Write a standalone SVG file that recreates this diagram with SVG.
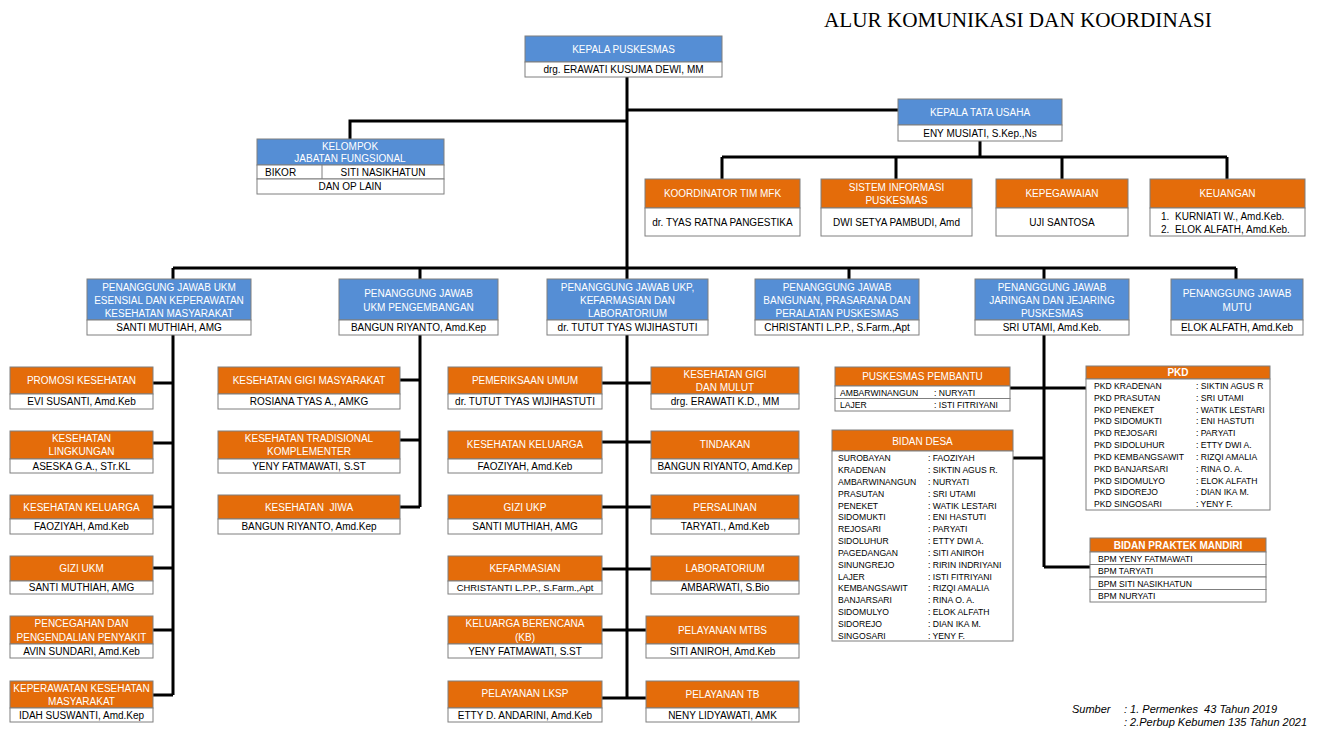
<svg xmlns="http://www.w3.org/2000/svg" width="1330" height="729" viewBox="0 0 1330 729">
<style>
.bl{fill:#558ED5;stroke:#7F7F7F;stroke-width:1}
.or{fill:#E46C0A;stroke:#7F7F7F;stroke-width:1}
.wh{fill:#FFFFFF;stroke:#7F7F7F;stroke-width:1}
.ht{fill:#FFFFFF;font-family:"Liberation Sans",Arial,sans-serif;font-size:10px;text-anchor:middle}
.nt{fill:#000000;font-family:"Liberation Sans",Arial,sans-serif;font-size:10px;text-anchor:middle}
.ns{fill:#000000;font-family:"Liberation Sans",Arial,sans-serif;font-size:10px;text-anchor:start}
.rt{fill:#000000;font-family:"Liberation Sans",Arial,sans-serif;font-size:8.6px}
.ln{stroke:#000000;stroke-width:3;fill:none}
</style>
<rect width="1330" height="729" fill="#FFFFFF"/>
<text x="824" y="27" font-family="Liberation Serif,Times New Roman,serif" font-size="21.2" fill="#000">ALUR KOMUNIKASI DAN KOORDINASI</text>

<g id="connectors">
<path class="ln" d="M627 77V698"/>
<path class="ln" d="M627 110H898"/>
<path class="ln" d="M627 121H350V139"/>
<path class="ln" d="M980 141V157M722 157H1227M722 157V179M896 157V179M1062 157V179M1227 157V179"/>
<path class="ln" d="M173 268H1236M173 268V279M420 268V279M849 268V279M1044 268V279M1236 268V279"/>
<path class="ln" d="M173 335V695M153 383H173M153 443H173M153 507H173M153 568H173M153 630H173M153 695H173"/>
<path class="ln" d="M420 335V507M400 380H420M400 440H420M400 507H420"/>
<path class="ln" d="M602 383H651M602 442H651M602 507H651M602 569H651M602 630H646M602 698H646"/>
<path class="ln" d="M1044 335V567M1010 388H1086M1013 458H1044M1044 567H1090"/>
</g>

<g id="kepala-puskesmas">
<rect class="bl" x="525" y="36" width="197" height="26"/>
<rect class="wh" x="525" y="62" width="197" height="15"/>
<text class="ht" x="623.5" y="53">KEPALA PUSKESMAS</text>
<text class="nt" x="623.5" y="73">drg. ERAWATI KUSUMA DEWI, MM</text>
</g>

<g id="kepala-tata-usaha">
<rect class="bl" x="898" y="99" width="164" height="26"/>
<rect class="wh" x="898" y="125" width="164" height="16"/>
<text class="ht" x="980" y="116">KEPALA TATA USAHA</text>
<text class="nt" x="980" y="137">ENY MUSIATI, S.Kep.,Ns</text>
</g>

<g id="kelompok-jf">
<rect class="bl" x="257" y="139" width="187" height="26"/>
<rect class="wh" x="257" y="165" width="187" height="14"/>
<rect class="wh" x="257" y="179" width="187" height="15"/>
<line x1="322" y1="165" x2="322" y2="179" stroke="#7F7F7F"/>
<text class="ht" x="350" y="150">KELOMPOK</text>
<text class="ht" x="350" y="162">JABATAN FUNGSIONAL</text>
<text class="ns" x="265" y="176">BIKOR</text>
<text class="nt" x="383" y="176">SITI NASIKHATUN</text>
<text class="nt" x="350" y="190">DAN OP LAIN</text>
</g>

<g id="mfk">
<rect class="or" x="645" y="179" width="155" height="29"/>
<rect class="wh" x="645" y="208" width="155" height="28"/>
<text class="ht" x="722.5" y="197">KOORDINATOR TIM MFK</text>
<text class="nt" x="722.5" y="226">dr. TYAS RATNA PANGESTIKA</text>
</g>
<g id="sip">
<rect class="or" x="821" y="179" width="151" height="29"/>
<rect class="wh" x="821" y="208" width="151" height="28"/>
<text class="ht" x="896.5" y="191">SISTEM INFORMASI</text>
<text class="ht" x="896.5" y="204">PUSKESMAS</text>
<text class="nt" x="896.5" y="226">DWI SETYA PAMBUDI, Amd</text>
</g>
<g id="kepegawaian">
<rect class="or" x="996" y="179" width="132" height="29"/>
<rect class="wh" x="996" y="208" width="132" height="28"/>
<text class="ht" x="1062" y="197">KEPEGAWAIAN</text>
<text class="nt" x="1062" y="226">UJI SANTOSA</text>
</g>
<g id="keuangan">
<rect class="or" x="1150" y="179" width="155" height="29"/>
<rect class="wh" x="1150" y="208" width="155" height="28"/>
<text class="ht" x="1227.5" y="197">KEUANGAN</text>
<text class="ns" x="1161" y="220">1.</text>
<text class="ns" x="1175" y="220">KURNIATI W., Amd.Keb.</text>
<text class="ns" x="1161" y="233">2.</text>
<text class="ns" x="1175" y="233">ELOK ALFATH, Amd.Keb.</text>
</g>

<g id="pj-ukm-esensial">
<rect class="bl" x="87" y="279" width="164" height="41"/>
<rect class="wh" x="87" y="320" width="164" height="15"/>
<text class="ht" x="169" y="291">PENANGGUNG JAWAB UKM</text>
<text class="ht" x="169" y="304">ESENSIAL DAN KEPERAWATAN</text>
<text class="ht" x="169" y="317">KESEHATAN MASYARAKAT</text>
<text class="nt" x="169" y="331">SANTI MUTHIAH, AMG</text>
</g>
<g id="pj-ukm-pengembangan">
<rect class="bl" x="339" y="279" width="159" height="41"/>
<rect class="wh" x="339" y="320" width="159" height="15"/>
<text class="ht" x="418.5" y="297">PENANGGUNG JAWAB</text>
<text class="ht" x="418.5" y="311">UKM PENGEMBANGAN</text>
<text class="nt" x="418.5" y="331">BANGUN RIYANTO, Amd.Kep</text>
</g>
<g id="pj-ukp">
<rect class="bl" x="547" y="279" width="161" height="41"/>
<rect class="wh" x="547" y="320" width="161" height="15"/>
<text class="ht" x="627.5" y="291">PENANGGUNG JAWAB UKP,</text>
<text class="ht" x="627.5" y="304">KEFARMASIAN DAN</text>
<text class="ht" x="627.5" y="317">LABORATORIUM</text>
<text class="nt" x="627.5" y="331">dr. TUTUT TYAS WIJIHASTUTI</text>
</g>
<g id="pj-bangunan">
<rect class="bl" x="755" y="279" width="164" height="41"/>
<rect class="wh" x="755" y="320" width="164" height="15"/>
<text class="ht" x="837" y="291">PENANGGUNG JAWAB</text>
<text class="ht" x="837" y="304">BANGUNAN, PRASARANA DAN</text>
<text class="ht" x="837" y="317">PERALATAN PUSKESMAS</text>
<text class="nt" x="837" y="331">CHRISTANTI L.P.P., S.Farm.,Apt</text>
</g>
<g id="pj-jaringan">
<rect class="bl" x="975" y="279" width="154" height="41"/>
<rect class="wh" x="975" y="320" width="154" height="15"/>
<text class="ht" x="1052" y="291">PENANGGUNG JAWAB</text>
<text class="ht" x="1052" y="304">JARINGAN DAN JEJARING</text>
<text class="ht" x="1052" y="317">PUSKESMAS</text>
<text class="nt" x="1052" y="331">SRI UTAMI, Amd.Keb.</text>
</g>
<g id="pj-mutu">
<rect class="bl" x="1171" y="279" width="132" height="41"/>
<rect class="wh" x="1171" y="320" width="132" height="15"/>
<text class="ht" x="1237" y="297">PENANGGUNG JAWAB</text>
<text class="ht" x="1237" y="311">MUTU</text>
<text class="nt" x="1237" y="331">ELOK ALFATH, Amd.Keb</text>
</g>

<g id="promosi-kesehatan">
<rect class="or" x="10" y="367" width="143" height="27"/>
<rect class="wh" x="10" y="394" width="143" height="15"/>
<text class="ht" x="81.5" y="384">PROMOSI KESEHATAN</text>
<text class="nt" x="81.5" y="405">EVI SUSANTI, Amd.Keb</text>
</g>
<g id="kesehatan-lingkungan">
<rect class="or" x="10" y="431" width="143" height="28"/>
<rect class="wh" x="10" y="459" width="143" height="14"/>
<text class="ht" x="81.5" y="442">KESEHATAN</text>
<text class="ht" x="81.5" y="455">LINGKUNGAN</text>
<text class="nt" x="81.5" y="470">ASESKA G.A., STr.KL</text>
</g>
<g id="kesehatan-keluarga-ukm">
<rect class="or" x="10" y="495" width="143" height="24"/>
<rect class="wh" x="10" y="519" width="143" height="15"/>
<text class="ht" x="81.5" y="511">KESEHATAN KELUARGA</text>
<text class="nt" x="81.5" y="530">FAOZIYAH, Amd.Keb</text>
</g>
<g id="gizi-ukm">
<rect class="or" x="10" y="556" width="143" height="25"/>
<rect class="wh" x="10" y="581" width="143" height="13"/>
<text class="ht" x="81.5" y="572">GIZI UKM</text>
<text class="nt" x="81.5" y="591">SANTI MUTHIAH, AMG</text>
</g>
<g id="p2p">
<rect class="or" x="10" y="616" width="143" height="28"/>
<rect class="wh" x="10" y="644" width="143" height="14"/>
<text class="ht" x="81.5" y="627">PENCEGAHAN DAN</text>
<text class="ht" x="81.5" y="641">PENGENDALIAN PENYAKIT</text>
<text class="nt" x="81.5" y="655">AVIN SUNDARI, Amd.Keb</text>
</g>
<g id="perkesmas">
<rect class="or" x="10" y="681" width="143" height="27"/>
<rect class="wh" x="10" y="708" width="143" height="14"/>
<text class="ht" x="81.5" y="692">KEPERAWATAN KESEHATAN</text>
<text class="ht" x="81.5" y="705">MASYARAKAT</text>
<text class="nt" x="81.5" y="719">IDAH SUSWANTI, Amd.Kep</text>
</g>

<g id="kesgimas">
<rect class="or" x="218" y="367" width="182" height="27"/>
<rect class="wh" x="218" y="394" width="182" height="15"/>
<text class="ht" x="309" y="384">KESEHATAN GIGI MASYARAKAT</text>
<text class="nt" x="309" y="405">ROSIANA TYAS A., AMKG</text>
</g>
<g id="kestrad">
<rect class="or" x="218" y="431" width="182" height="28"/>
<rect class="wh" x="218" y="459" width="182" height="14"/>
<text class="ht" x="309" y="442">KESEHATAN TRADISIONAL</text>
<text class="ht" x="309" y="455">KOMPLEMENTER</text>
<text class="nt" x="309" y="470">YENY FATMAWATI, S.ST</text>
</g>
<g id="keswa">
<rect class="or" x="218" y="495" width="182" height="24"/>
<rect class="wh" x="218" y="519" width="182" height="15"/>
<text class="ht" x="309" y="511" xml:space="preserve">KESEHATAN  JIWA</text>
<text class="nt" x="309" y="530">BANGUN RIYANTO, Amd.Kep</text>
</g>

<g id="pemeriksaan-umum">
<rect class="or" x="448" y="367" width="154" height="27"/>
<rect class="wh" x="448" y="394" width="154" height="15"/>
<text class="ht" x="525" y="384">PEMERIKSAAN UMUM</text>
<text class="nt" x="525" y="405">dr. TUTUT TYAS WIJIHASTUTI</text>
</g>
<g id="kesgilut">
<rect class="or" x="651" y="367" width="148" height="27"/>
<rect class="wh" x="651" y="394" width="148" height="15"/>
<text class="ht" x="725" y="378">KESEHATAN GIGI</text>
<text class="ht" x="725" y="391">DAN MULUT</text>
<text class="nt" x="725" y="405">drg. ERAWATI K.D., MM</text>
</g>
<g id="kesehatan-keluarga-ukp">
<rect class="or" x="448" y="431" width="154" height="28"/>
<rect class="wh" x="448" y="459" width="154" height="14"/>
<text class="ht" x="525" y="448">KESEHATAN KELUARGA</text>
<text class="nt" x="525" y="470">FAOZIYAH, Amd.Keb</text>
</g>
<g id="tindakan">
<rect class="or" x="651" y="431" width="148" height="28"/>
<rect class="wh" x="651" y="459" width="148" height="14"/>
<text class="ht" x="725" y="448">TINDAKAN</text>
<text class="nt" x="725" y="470">BANGUN RIYANTO, Amd.Kep</text>
</g>
<g id="gizi-ukp">
<rect class="or" x="448" y="495" width="154" height="24"/>
<rect class="wh" x="448" y="519" width="154" height="15"/>
<text class="ht" x="525" y="511">GIZI UKP</text>
<text class="nt" x="525" y="530">SANTI MUTHIAH, AMG</text>
</g>
<g id="persalinan">
<rect class="or" x="651" y="495" width="148" height="24"/>
<rect class="wh" x="651" y="519" width="148" height="15"/>
<text class="ht" x="725" y="511">PERSALINAN</text>
<text class="nt" x="725" y="530">TARYATI., Amd.Keb</text>
</g>
<g id="kefarmasian">
<rect class="or" x="448" y="556" width="154" height="25"/>
<rect class="wh" x="448" y="581" width="154" height="13"/>
<text class="ht" x="525" y="572">KEFARMASIAN</text>
<text class="nt" x="525" y="591" style="font-size:9.4px">CHRISTANTI L.P.P., S.Farm.,Apt</text>
</g>
<g id="laboratorium">
<rect class="or" x="651" y="556" width="148" height="25"/>
<rect class="wh" x="651" y="581" width="148" height="13"/>
<text class="ht" x="725" y="572">LABORATORIUM</text>
<text class="nt" x="725" y="591">AMBARWATI, S.Bio</text>
</g>
<g id="kb">
<rect class="or" x="448" y="616" width="154" height="28"/>
<rect class="wh" x="448" y="644" width="154" height="14"/>
<text class="ht" x="525" y="627">KELUARGA BERENCANA</text>
<text class="ht" x="525" y="641">(KB)</text>
<text class="nt" x="525" y="655">YENY FATMAWATI, S.ST</text>
</g>
<g id="mtbs">
<rect class="or" x="646" y="616" width="153" height="28"/>
<rect class="wh" x="646" y="644" width="153" height="14"/>
<text class="ht" x="722.5" y="634">PELAYANAN MTBS</text>
<text class="nt" x="722.5" y="655">SITI ANIROH, Amd.Keb</text>
</g>
<g id="lksp">
<rect class="or" x="448" y="681" width="154" height="27"/>
<rect class="wh" x="448" y="708" width="154" height="14"/>
<text class="ht" x="525" y="697">PELAYANAN LKSP</text>
<text class="nt" x="525" y="719">ETTY D. ANDARINI, Amd.Keb</text>
</g>
<g id="tb">
<rect class="or" x="646" y="681" width="153" height="27"/>
<rect class="wh" x="646" y="708" width="153" height="14"/>
<text class="ht" x="722.5" y="698">PELAYANAN TB</text>
<text class="nt" x="722.5" y="719">NENY LIDYAWATI, AMK</text>
</g>

<g id="puskesmas-pembantu">
<rect class="or" x="835" y="367" width="175" height="19"/>
<rect class="wh" x="835" y="386" width="175" height="12.5"/>
<rect class="wh" x="835" y="398.5" width="175" height="12.5"/>
<text class="ht" x="922.5" y="380">PUSKESMAS PEMBANTU</text>
<text class="rt" x="840" y="395.5">AMBARWINANGUN</text><text class="rt" x="934" y="395.5">: NURYATI</text>
<text class="rt" x="840" y="408">LAJER</text><text class="rt" x="934" y="408">: ISTI FITRIYANI</text>
</g>

<g id="pkd">
<rect class="or" x="1086" y="366" width="184" height="13"/>
<rect class="wh" x="1086" y="379" width="184" height="131"/>
<text class="ht" x="1178" y="376" style="font-weight:bold">PKD</text>
<g class="rt">
<text x="1094" y="389">PKD KRADENAN</text><text x="1196" y="389">: SIKTIN AGUS R</text>
<text x="1094" y="401">PKD PRASUTAN</text><text x="1196" y="401">: SRI UTAMI</text>
<text x="1094" y="413">PKD PENEKET</text><text x="1196" y="413">: WATIK LESTARI</text>
<text x="1094" y="424">PKD SIDOMUKTI</text><text x="1196" y="424">: ENI HASTUTI</text>
<text x="1094" y="436">PKD REJOSARI</text><text x="1196" y="436">: PARYATI</text>
<text x="1094" y="448">PKD SIDOLUHUR</text><text x="1196" y="448">: ETTY DWI A.</text>
<text x="1094" y="460">PKD KEMBANGSAWIT</text><text x="1196" y="460">: RIZQI AMALIA</text>
<text x="1094" y="472">PKD BANJARSARI</text><text x="1196" y="472">: RINA O. A.</text>
<text x="1094" y="484">PKD SIDOMULYO</text><text x="1196" y="484">: ELOK ALFATH</text>
<text x="1094" y="495">PKD SIDOREJO</text><text x="1196" y="495">: DIAN IKA M.</text>
<text x="1094" y="507">PKD SINGOSARI</text><text x="1196" y="507">: YENY F.</text>
</g>
</g>

<g id="bidan-desa">
<rect class="or" x="832" y="430" width="181" height="21"/>
<rect class="wh" x="832" y="451" width="181" height="190"/>
<text class="ht" x="922.5" y="445">BIDAN DESA</text>
<g class="rt">
<text x="838" y="461">SUROBAYAN</text><text x="928" y="461">: FAOZIYAH</text>
<text x="838" y="473">KRADENAN</text><text x="928" y="473">: SIKTIN AGUS R.</text>
<text x="838" y="485">AMBARWINANGUN</text><text x="928" y="485">: NURYATI</text>
<text x="838" y="496.5">PRASUTAN</text><text x="928" y="496.5">: SRI UTAMI</text>
<text x="838" y="508.5">PENEKET</text><text x="928" y="508.5">: WATIK LESTARI</text>
<text x="838" y="520">SIDOMUKTI</text><text x="928" y="520">: ENI HASTUTI</text>
<text x="838" y="532">REJOSARI</text><text x="928" y="532">: PARYATI</text>
<text x="838" y="544">SIDOLUHUR</text><text x="928" y="544">: ETTY DWI A.</text>
<text x="838" y="556">PAGEDANGAN</text><text x="928" y="556">: SITI ANIROH</text>
<text x="838" y="567.5">SINUNGREJO</text><text x="928" y="567.5">: RIRIN INDRIYANI</text>
<text x="838" y="579.5">LAJER</text><text x="928" y="579.5">: ISTI FITRIYANI</text>
<text x="838" y="591">KEMBANGSAWIT</text><text x="928" y="591">: RIZQI AMALIA</text>
<text x="838" y="603">BANJARSARI</text><text x="928" y="603">: RINA O. A.</text>
<text x="838" y="615">SIDOMULYO</text><text x="928" y="615">: ELOK ALFATH</text>
<text x="838" y="627">SIDOREJO</text><text x="928" y="627">: DIAN IKA M.</text>
<text x="838" y="638.5">SINGOSARI</text><text x="928" y="638.5">: YENY F.</text>
</g>
</g>

<g id="bidan-praktek-mandiri">
<rect class="or" x="1090" y="538" width="176" height="14"/>
<rect class="wh" x="1090" y="552" width="176" height="12.5"/>
<rect class="wh" x="1090" y="564.5" width="176" height="12.5"/>
<rect class="wh" x="1090" y="577" width="176" height="12.5"/>
<rect class="wh" x="1090" y="589.5" width="176" height="12.5"/>
<text class="ht" x="1178" y="549" style="font-weight:bold">BIDAN PRAKTEK MANDIRI</text>
<text class="rt" x="1098" y="561.5">BPM YENY FATMAWATI</text>
<text class="rt" x="1098" y="574">BPM TARYATI</text>
<text class="rt" x="1098" y="586.5">BPM SITI NASIKHATUN</text>
<text class="rt" x="1098" y="599">BPM NURYATI</text>
</g>

<g id="sumber" font-family="Liberation Sans,Arial,sans-serif" font-size="11" font-style="italic" fill="#000">
<text x="1072" y="713">Sumber</text>
<text x="1124" y="713" xml:space="preserve">: 1. Permenkes  43 Tahun 2019</text>
<text x="1124" y="726">: 2.Perbup Kebumen 135 Tahun 2021</text>
</g>
</svg>
